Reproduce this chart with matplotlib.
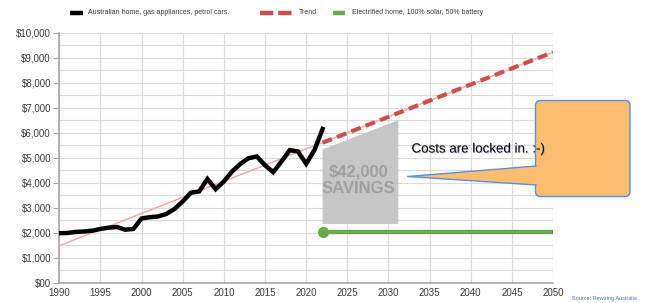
import numpy as np
import matplotlib.pyplot as plt
from matplotlib.patches import FancyBboxPatch, Polygon
from matplotlib.lines import Line2D
import matplotlib.patheffects as pe

plt.rcParams['font.family'] = ['Liberation Sans', 'DejaVu Sans']

# data
years = list(range(1990, 2023))
costs = [1980, 1990, 2030, 2050, 2080, 2150, 2200, 2230, 2120, 2150,
         2570, 2620, 2650, 2750, 2950, 3250, 3600, 3650, 4150, 3740,
         4050, 4450, 4750, 4980, 5050, 4700, 4420, 4850, 5300, 5250,
         4760, 5300, 6150]

trend_years = [1990, 2050]
trend_vals = [1480, 9220]

dash_years = [2022, 2050]
dash_vals = [5600, 9220]

elec_years = [2022, 2050]
elec_vals = [2030, 2030]

save_x = [2022, 2022, 2031.2, 2031.2]
save_y = [2350, 5330, 6500, 2350]

yticks = list(range(0, 10001, 1000))
ytick_labels = ['$00'] + ['${:,}'.format(v) for v in yticks[1:]]
xticks = list(range(1990, 2051, 5))

W, H = 646, 303
fig = plt.figure(figsize=(W / 100, H / 100), dpi=100)
ax = fig.add_axes([59.3 / W, 1 - 282.7 / H, (553 - 59.3) / W, (282.7 - 32.7) / H])

ax.set_xlim(1990, 2050)
ax.set_ylim(0, 10000)
ax.set_yticks(yticks)
ax.set_yticklabels(ytick_labels)
ax.set_yticks(list(range(500, 10000, 1000)), minor=True)
ax.set_xticks(xticks)
ax.grid(True, which='both', color='#dadada', lw=0.8, zorder=0)
ax.set_axisbelow(True)
for s in ['top', 'right']:
    ax.spines[s].set_visible(False)
for s in ['left', 'bottom']:
    ax.spines[s].set_color('#a6a6a6')
    ax.spines[s].set_linewidth(1.2)
ax.tick_params(axis='y', which='major', length=4, color='#a6a6a6',
               labelsize=7, labelcolor='#3a3a3a', pad=2)
ax.tick_params(axis='y', which='minor', length=0)
ax.tick_params(axis='x', length=0, labelsize=7, labelcolor='#3a3a3a', pad=4)

# savings area
ax.add_patch(Polygon(list(zip(save_x, save_y)), closed=True,
                     facecolor='#c6c6c6', edgecolor='none', zorder=2))
ax.text(2026.4, 4100, '$42,000\nSAVINGS', ha='center', va='center',
        fontsize=12, fontweight='bold', color='#a0a0a0',
        linespacing=1.1, zorder=3)

ax.plot(trend_years, trend_vals, color='#f2a6a6', lw=1, zorder=3)
ax.plot(dash_years, dash_vals, color='#c9504d', lw=3, dashes=(2.4, 1.3),
        zorder=4)
ax.plot(years, costs, color='black', lw=3.2,
        solid_joinstyle='miter', zorder=5)
ax.plot(elec_years, elec_vals, color='#6aaa4a', lw=3.2, zorder=5)
ax.plot(elec_years[:1], elec_vals[:1], 'o', color='#6aaa4a',
        markersize=7, zorder=6)

# callout (pixel coords -> figure fraction)
def fx(px):
    return px / W

def fy(py):
    return 1 - py / H

orange = '#fdbe70'
blue = '#5b8ee3'
box = FancyBboxPatch((fx(535.5), fy(196.5)), fx(630) - fx(535.5),
                     fy(100.5) - fy(196.5),
                     boxstyle='round,pad=0,rounding_size=0.008',
                     mutation_aspect=W / H, transform=fig.transFigure,
                     facecolor=orange, edgecolor=blue, lw=1.0, zorder=10)
fig.add_artist(box)
tail = Polygon([(fx(540), fy(166)), (fx(408), fy(176.5)), (fx(540), fy(185))],
               closed=True, transform=fig.transFigure, facecolor=orange,
               edgecolor='none', zorder=11)
fig.add_artist(tail)
for yy in (166, 185):
    fig.add_artist(Line2D([fx(536), fx(408)], [fy(yy), fy(176.5)],
                          transform=fig.transFigure, color=blue, lw=1.0,
                          zorder=12))
fig.text(fx(411.5), fy(149.5), 'Costs are locked in. :-)', ha='left',
         va='center', fontsize=9.6, color='black', zorder=13,
         path_effects=[pe.withSimplePatchShadow(offset=(0.6, -0.6),
                                                shadow_rgbFace='#7f93b8',
                                                alpha=0.6)])

# legend drawn by hand
ly = fy(12.5)
legend_items = [
    (70, 83, 'black', None, 88, 'Australian home, gas appliances, petrol cars.'),
    (260, 292, '#c9504d', (3.0, 1.1), 299, 'Trend'),
    (333, 345, '#6aaa4a', None, 352, 'Electrified home, 100% solar, 50% battery'),
]
for x0, x1, c, d, tx, label in legend_items:
    ln = Line2D([fx(x0), fx(x1)], [ly, ly], transform=fig.transFigure,
                color=c, lw=3.2, solid_capstyle='butt', dash_capstyle='butt')
    if d:
        ln.set_dashes(d)
    fig.add_artist(ln)
    fig.text(fx(tx), ly, label, ha='left', va='center', fontsize=5,
             color='#3a3a3a')

fig.text(fx(572), fy(296), 'Source: Rewiring Australia', ha='left',
         va='top', fontsize=4, color='#4472c4')

fig.savefig('out.png', dpi=100)
